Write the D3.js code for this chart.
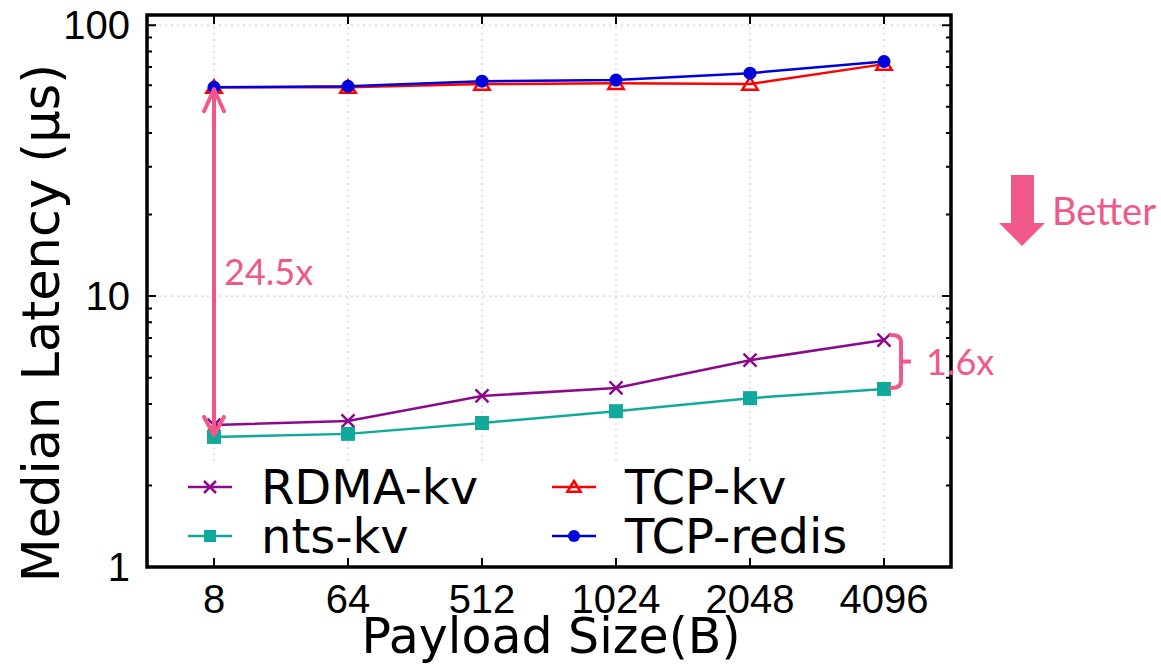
<!DOCTYPE html>
<html>
<head>
<meta charset="utf-8">
<script src="https://cdn.jsdelivr.net/npm/d3@7"></script>
<style>
  body { margin: 0; background: #fff; }
  .tick-label { font-family: "Liberation Sans", Arial, sans-serif; font-size: 40px; fill: #000; }
  .axis-title { font-family: "DejaVu Sans", Verdana, sans-serif; font-size: 48px; fill: #000; }
  .legend-text { font-family: "DejaVu Sans", Verdana, sans-serif; font-size: 48px; fill: #000; }
  .note { font-family: Lato, "Open Sans", sans-serif; font-size: 36px; fill: #f0588a; }
</style>
</head>
<body>
<script>
// payload sizes (x categories)
const sizes = ["8", "64", "512", "1024", "2048", "4096"];
// median latency in microseconds
const rdmaKv = [3.34, 3.46, 4.28, 4.58, 5.8, 6.88];
const ntsKv = [3.02, 3.10, 3.40, 3.76, 4.2, 4.54];
const tcpKv = [59, 59, 60.6, 61, 60.6, 71.8];
const tcpRedis = [59, 59.5, 62.1, 62.7, 66.5, 73.4];
const yTicks = [1, 10, 100];
const gapLabel = "24.5x";
const ratioLabel = "1.6x";

const series = [
  {name: "RDMA-kv", values: rdmaKv, color: "#8b0a8b", marker: "cross"},
  {name: "nts-kv", values: ntsKv, color: "#10a99b", marker: "square"},
  {name: "TCP-kv", values: tcpKv, color: "#ff0000", marker: "triangle"},
  {name: "TCP-redis", values: tcpRedis, color: "#0000dd", marker: "circle"}
];

const W = 1161, H = 665;
var margin = {top: 15, right: 210, bottom: 98, left: 147},
    width = W - margin.left - margin.right,
    height = H - margin.top - margin.bottom;

const svg = d3.select("body").append("svg")
  .attr("width", W)
  .attr("height", H);

const g = svg.append("g")
  .attr("transform", "translate(" + margin.left + "," + margin.top + ")");

var xScale = d3.scalePoint()
  .domain(sizes)
  .range([0, width])
  .padding(0.5);

var yScale = d3.scaleLog()
  .domain([1, 109])
  .range([height, 0]);

// grid
g.append("g").selectAll("line.vg")
  .data(sizes).enter().append("line")
  .attr("x1", d => xScale(d)).attr("x2", d => xScale(d))
  .attr("y1", 0).attr("y2", height)
  .attr("stroke", "#d0d0d0").attr("stroke-width", 1.2)
  .attr("stroke-dasharray", "2,4");
g.append("g").selectAll("line.hg")
  .data(yTicks.filter(d => d > 1)).enter().append("line")
  .attr("x1", 0).attr("x2", width)
  .attr("y1", d => yScale(d)).attr("y2", d => yScale(d))
  .attr("stroke", "#d0d0d0").attr("stroke-width", 1.2)
  .attr("stroke-dasharray", "2,4");

function drawMarker(sel, type, color, s) {
  if (type === "cross") {
    sel.append("path")
      .attr("d", `M${-s},${-s}L${s},${s}M${-s},${s}L${s},${-s}`)
      .attr("stroke", color).attr("stroke-width", 2.5).attr("fill", "none");
  } else if (type === "square") {
    sel.append("rect")
      .attr("x", -s).attr("y", -s).attr("width", 2 * s).attr("height", 2 * s)
      .attr("fill", color);
  } else if (type === "triangle") {
    sel.append("path")
      .attr("d", `M0,${-s}L${s * 1.1},${s * 0.8}L${-s * 1.1},${s * 0.8}Z`)
      .attr("stroke", color).attr("stroke-width", 2.5).attr("fill", "none");
  } else {
    sel.append("circle").attr("r", s).attr("fill", color);
  }
}

const line = d3.line()
  .x((d, i) => xScale(sizes[i]))
  .y(d => yScale(d));

series.forEach(function(s) {
  g.append("path")
    .datum(s.values)
    .attr("d", line)
    .attr("fill", "none")
    .attr("stroke", s.color)
    .attr("stroke-width", 2.5);
  s.values.forEach(function(v, i) {
    const m = g.append("g")
      .attr("transform", "translate(" + xScale(sizes[i]) + "," + yScale(v) + ")");
    drawMarker(m, s.marker, s.color, s.marker === "cross" ? 6.5 : (s.marker === "circle" ? 6.5 : 7));
  });
});

// legend (opaque box)
const leg = g.append("g");
leg.append("rect")
  .attr("x", 22).attr("y", 448).attr("width", 700).attr("height", height - 449)
  .attr("fill", "#fff");
series.forEach(function(s, i) {
  const col = Math.floor(i / 2), row = i % 2;
  const lx = 41 + col * 364, ly = 472 + row * 49;
  leg.append("line")
    .attr("x1", lx).attr("x2", lx + 44)
    .attr("y1", ly).attr("y2", ly)
    .attr("stroke", s.color).attr("stroke-width", 2.5);
  const m = leg.append("g").attr("transform", "translate(" + (lx + 22) + "," + ly + ")");
  drawMarker(m, s.marker, s.color, 6);
  leg.append("text")
    .attr("class", "legend-text")
    .attr("x", lx + 73).attr("y", ly + 17)
    .text(s.name);
});

// frame
g.append("rect")
  .attr("x", 0).attr("y", 0).attr("width", width).attr("height", height)
  .attr("fill", "none").attr("stroke", "#000").attr("stroke-width", 3.5);

// x ticks (bottom and top, inward)
g.append("g").selectAll("path")
  .data(sizes).enter().append("path")
  .attr("d", d => `M${xScale(d)},${height}v-9M${xScale(d)},0v9`)
  .attr("stroke", "#000").attr("stroke-width", 2);
g.append("g").selectAll("text")
  .data(sizes).enter().append("text")
  .attr("class", "tick-label")
  .attr("x", d => xScale(d)).attr("y", height + 46)
  .attr("text-anchor", "middle")
  .text(d => d);

// y ticks: majors and minors on both sides
const minor = [];
for (let dec = 1; dec < 100; dec *= 10) {
  for (let k = 2; k <= 9; k++) minor.push(dec * k);
}
g.append("g").selectAll("path")
  .data(yTicks).enter().append("path")
  .attr("d", d => `M0,${yScale(d)}h9M${width},${yScale(d)}h-9`)
  .attr("stroke", "#000").attr("stroke-width", 2);
g.append("g").selectAll("path")
  .data(minor).enter().append("path")
  .attr("d", d => `M0,${yScale(d)}h5M${width},${yScale(d)}h-5`)
  .attr("stroke", "#000").attr("stroke-width", 2);
g.append("g").selectAll("text")
  .data(yTicks).enter().append("text")
  .attr("class", "tick-label")
  .attr("x", -17).attr("y", d => yScale(d) + 14)
  .attr("text-anchor", "end")
  .text(d => d);

// axis titles
g.append("text")
  .attr("class", "axis-title")
  .attr("text-anchor", "middle")
  .attr("x", (xScale("512") + xScale("1024")) / 2 + 2)
  .attr("y", height + 86)
  .style("font-size", "49px")
  .text("Payload Size(B)");
g.append("text")
  .attr("class", "axis-title")
  .attr("text-anchor", "middle")
  .attr("transform", "translate(-88," + (height / 2 + 32) + ") rotate(-90)")
  .style("font-size", "51px")
  .text("Median Latency (µs)");

// annotations
const pink = "#f0588a";
const ax = xScale(sizes[0]);
const yTopArrow = yScale(tcpKv[0]), yBotArrow = yScale(ntsKv[0]);
const ann = g.append("g").attr("stroke", pink).attr("stroke-width", 4)
  .attr("fill", "none").attr("stroke-linecap", "round").attr("stroke-linejoin", "round");
ann.append("path").attr("d", `M${ax},${yTopArrow + 2}V${yBotArrow - 2}`);
ann.append("path").attr("d", `M${ax - 10},${yTopArrow + 24}L${ax},${yTopArrow + 2}L${ax + 10},${yTopArrow + 24}`);
ann.append("path").attr("d", `M${ax - 10},${yBotArrow - 20}L${ax},${yBotArrow - 2}L${ax + 10},${yBotArrow - 20}`);
g.append("text").attr("class", "note")
  .attr("x", ax + 10).attr("y", (yScale(10) + yScale(20)) / 2 + 30)
  .text(gapLabel);

const bx = xScale(sizes[5]) + 17;
const bTop = yScale(rdmaKv[5]) - 5, bBot = yScale(ntsKv[5]) - 1;
const bMid = (bTop + bBot) / 2;
ann.append("path")
  .attr("d", `M${bx - 10},${bTop}Q${bx},${bTop} ${bx},${bTop + 7}V${bBot - 7}Q${bx},${bBot} ${bx - 10},${bBot}`);
ann.append("path").attr("d", `M${bx},${bMid}H${bx + 10}`).attr("stroke-linecap", "butt");
g.append("text").attr("class", "note")
  .attr("x", bx + 25).attr("y", bMid + 13)
  .text(ratioLabel);

// "Better" arrow
const better = svg.append("g").attr("transform", "translate(1022,0)");
better.append("path")
  .attr("d", "M-11,175H12V223H23L0,246L-23,223H-11Z")
  .attr("fill", pink);
svg.append("text").attr("class", "note")
  .attr("x", 1052).attr("y", 225)
  .style("font-size", "38px")
  .text("Better");
</script>
</body>
</html>
